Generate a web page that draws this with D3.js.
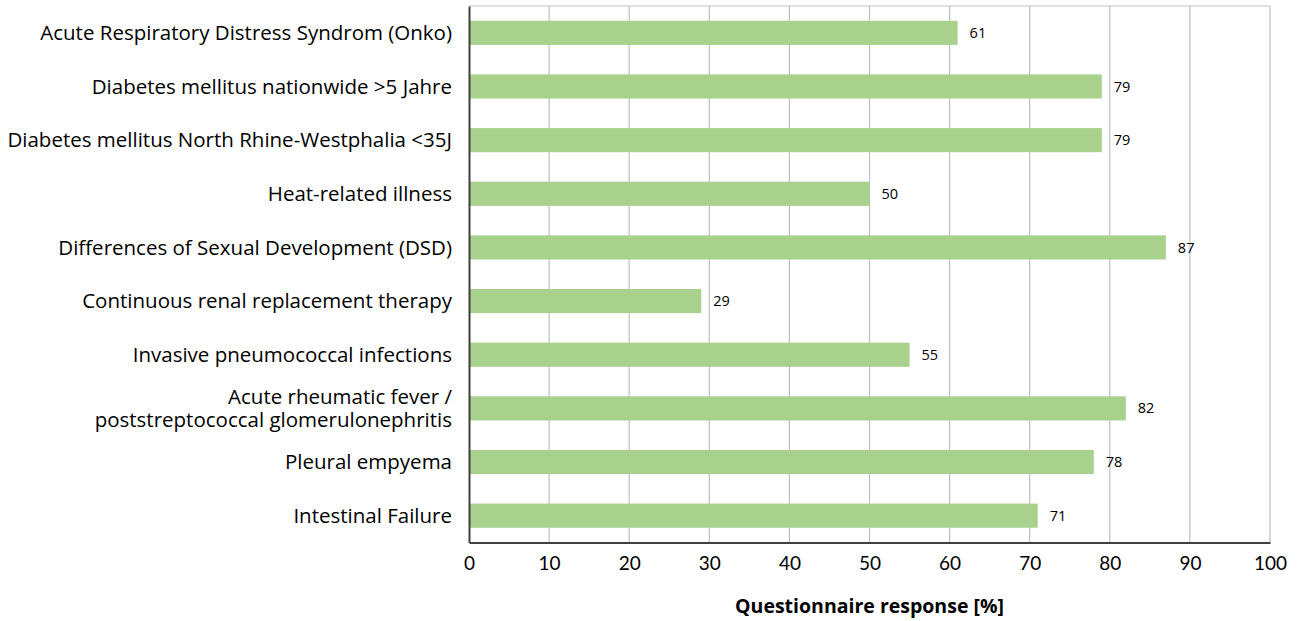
<!DOCTYPE html>
<html>
<head>
<meta charset="utf-8">
<script src="https://cdn.jsdelivr.net/npm/d3@7"></script>
<style>
  body { margin: 0; background: #fff; }
  svg { display: block; font-family: "Open Sans", sans-serif; }
</style>
</head>
<body>
<svg id="chart" width="1305" height="621"></svg>
<script>
// Registries and their questionnaire response rates (%)
const categories = [
  ["Acute Respiratory Distress Syndrom (Onko)"],
  ["Diabetes mellitus nationwide >5 Jahre"],
  ["Diabetes mellitus North Rhine-Westphalia <35J"],
  ["Heat-related illness"],
  ["Differences of Sexual Development (DSD)"],
  ["Continuous renal replacement therapy"],
  ["Invasive pneumococcal infections"],
  ["Acute rheumatic fever /", "poststreptococcal glomerulonephritis"],
  ["Pleural empyema"],
  ["Intestinal Failure"]
];
const responseRates = [61, 79, 79, 50, 87, 29, 55, 82, 78, 71];
const xTicks = [0, 10, 20, 30, 40, 50, 60, 70, 80, 90, 100];
const axisTitle = "Questionnaire response [%]";

const svg = d3.select("#chart");
const margin = { left: 469, right: 35, top: 6, bottom: 78.5 };
const W = 1305, H = 621;

const x = d3.scaleLinear().domain([0, 100]).range([margin.left, W - margin.right]);
const y = d3.scaleBand()
  .domain(d3.range(categories.length))
  .range([margin.top, H - margin.bottom])
  .paddingInner(0.55)
  .paddingOuter(0.275);

// vertical gridlines
svg.append("g")
  .selectAll("line")
  .data(xTicks.filter(d => d > 0))
  .join("line")
  .attr("x1", d => x(d)).attr("x2", d => x(d))
  .attr("y1", margin.top).attr("y2", H - margin.bottom)
  .attr("stroke", "#bfbfbf").attr("stroke-width", 1.2);

// top border
svg.append("line")
  .attr("x1", margin.left).attr("x2", W - margin.right)
  .attr("y1", margin.top).attr("y2", margin.top)
  .attr("stroke", "#bfbfbf").attr("stroke-width", 1.2);

// bars
svg.append("g")
  .selectAll("rect")
  .data(responseRates)
  .join("rect")
  .attr("x", x(0))
  .attr("y", (d, i) => y(i))
  .attr("width", d => x(d) - x(0))
  .attr("height", y.bandwidth())
  .attr("fill", "#a9d18e");

// value labels
svg.append("g")
  .selectAll("text")
  .data(responseRates)
  .join("text")
  .attr("x", d => x(d) + 12)
  .attr("y", (d, i) => y(i) + y.bandwidth() / 2)
  .attr("dy", "0.35em")
  .attr("font-size", 14.5)
  .attr("fill", "#000")
  .text(d => d);

// x axis
const xAxis = d3.axisBottom(x).tickValues(xTicks).tickSize(0).tickPadding(14);
const gx = svg.append("g")
  .attr("transform", `translate(0,${H - margin.bottom})`)
  .call(xAxis);
gx.select(".domain").attr("stroke", "#404040").attr("stroke-width", 2);
gx.selectAll(".tick text").attr("font-size", 19).attr("font-family", "Lato, sans-serif").attr("fill", "#000");

// y axis
const yAxis = d3.axisLeft(y).tickSize(0).tickPadding(17).tickFormat(() => "");
const gy = svg.append("g")
  .attr("transform", `translate(${margin.left},0)`)
  .call(yAxis);
gy.select(".domain").attr("stroke", "#404040").attr("stroke-width", 2);
gy.selectAll(".tick text").each(function (i) {
  const lines = categories[i];
  const t = d3.select(this)
    .attr("font-size", 20.5)
    .attr("font-family", "'Open Sans', sans-serif")
    .attr("fill", "#000")
    .attr("dy", null);
  lines.forEach((ln, k) => {
    t.append("tspan")
      .attr("x", -17)
      .attr("dy", k === 0 ? `${0.35 - (lines.length - 1) * 0.57}em` : "1.14em")
      .text(ln);
  });
});

// axis title
svg.append("text")
  .attr("x", x(50))
  .attr("y", 613)
  .attr("text-anchor", "middle")
  .attr("font-size", 19.5)
  .attr("font-weight", "bold")
  .attr("font-family", "'Open Sans', sans-serif")
  .attr("fill", "#000")
  .text(axisTitle);
</script>
</body>
</html>
